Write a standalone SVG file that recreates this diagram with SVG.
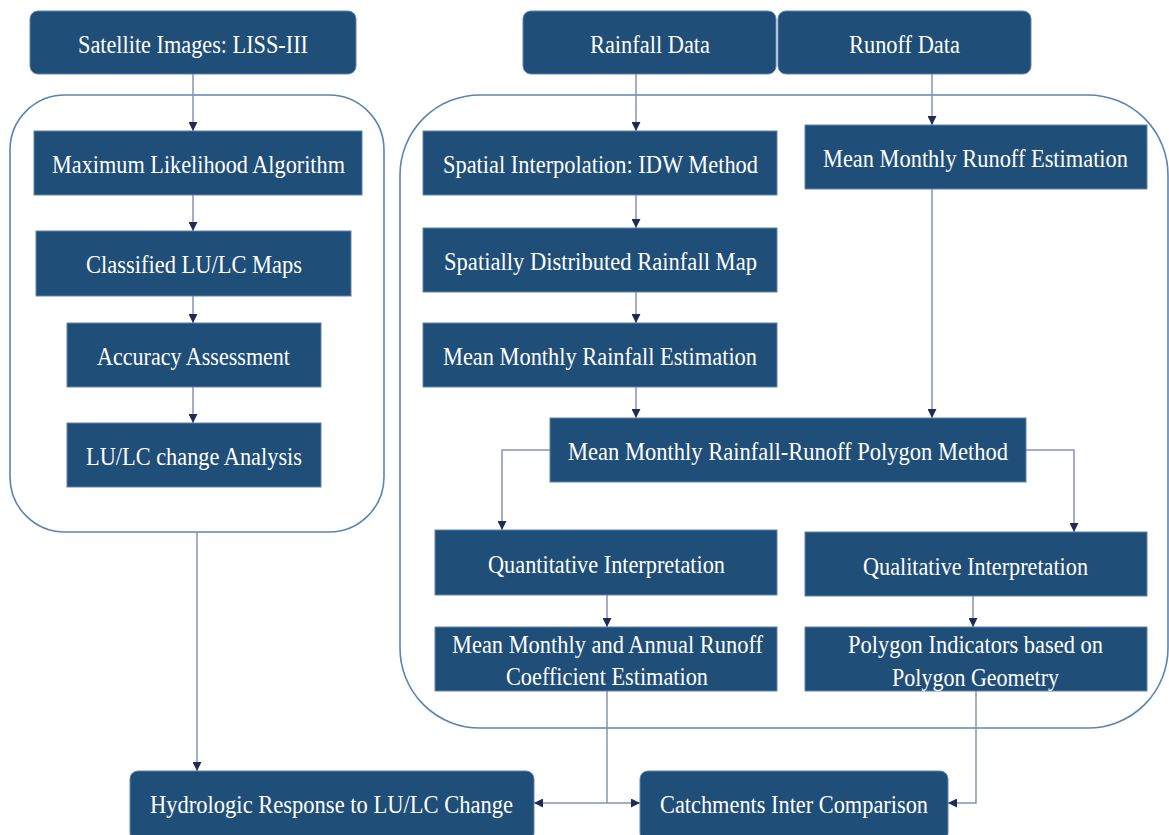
<svg xmlns="http://www.w3.org/2000/svg" width="1169" height="835" viewBox="0 0 1169 835">
<defs>
<marker id="arr" viewBox="0 0 10 10" refX="10" refY="5" markerWidth="9" markerHeight="9" markerUnits="userSpaceOnUse" orient="auto">
<path d="M0,0 L10,5 L0,10 z" fill="#1f2a55"/>
</marker>
<style>
.box{fill:#1f4e79;stroke:#5f84ad;stroke-width:1}
.cont{fill:none;stroke:#5a84b4;stroke-width:1.6}
.t{font-family:"Liberation Serif","Times New Roman",serif;font-size:26px;fill:#ffffff}
.c{fill:none;stroke:#8593b5;stroke-width:1.5}
.ca{fill:none;stroke:#8593b5;stroke-width:1.5;marker-end:url(#arr)}
</style>
</defs>
<rect width="1169" height="835" fill="#ffffff"/>
<g id="containers">
<rect class="cont" x="10" y="95" width="374" height="437" rx="55" ry="55"/>
<rect class="cont" x="400" y="95" width="768" height="633" rx="80" ry="80"/>
</g>
<g id="connectors">
<path class="ca" d="M193,74 V131"/>
<path class="ca" d="M193,195 V231"/>
<path class="ca" d="M193,296 V323"/>
<path class="ca" d="M193,387 V423"/>
<path class="ca" d="M197,532 V771"/>
<path class="ca" d="M636,74 V131"/>
<path class="ca" d="M932,74 V125"/>
<path class="ca" d="M636,195 V228"/>
<path class="ca" d="M636,292 V323"/>
<path class="ca" d="M636,387 V418"/>
<path class="ca" d="M932,189 V418"/>
<path class="ca" d="M550,450 H502 V530"/>
<path class="ca" d="M1026,450 H1074 V532"/>
<path class="ca" d="M607,595 V627"/>
<path class="ca" d="M973,596 V627"/>
<path class="c" d="M607,691 V803"/>
<path class="ca" d="M607,803 H534"/>
<path class="ca" d="M607,803 H640"/>
<path class="ca" d="M976,691 V803 H948"/>
</g>
<g id="n-satellite">
<rect class="box" x="30" y="11" width="326" height="63" rx="8"/>
<text class="t" x="78" y="53" textLength="230" lengthAdjust="spacingAndGlyphs">Satellite Images: LISS-III</text>
</g>
<g id="n-rainfall">
<rect class="box" x="523" y="11" width="253" height="63" rx="8"/>
<text class="t" x="590" y="53" textLength="120" lengthAdjust="spacingAndGlyphs">Rainfall Data</text>
</g>
<g id="n-runoff">
<rect class="box" x="778" y="11" width="253" height="63" rx="8"/>
<text class="t" x="849" y="53" textLength="111" lengthAdjust="spacingAndGlyphs">Runoff Data</text>
</g>
<g id="n-maxlik">
<rect class="box" x="34" y="131" width="328" height="64"/>
<text class="t" x="52" y="173" textLength="293" lengthAdjust="spacingAndGlyphs">Maximum Likelihood Algorithm</text>
</g>
<g id="n-classified">
<rect class="box" x="36" y="231" width="315" height="65"/>
<text class="t" x="86" y="273" textLength="216" lengthAdjust="spacingAndGlyphs">Classified LU/LC Maps</text>
</g>
<g id="n-accuracy">
<rect class="box" x="67" y="323" width="254" height="64"/>
<text class="t" x="97" y="365" textLength="193" lengthAdjust="spacingAndGlyphs">Accuracy Assessment</text>
</g>
<g id="n-lulcchange">
<rect class="box" x="67" y="423" width="254" height="64"/>
<text class="t" x="86" y="465" textLength="216" lengthAdjust="spacingAndGlyphs">LU/LC change Analysis</text>
</g>
<g id="n-spatialinterp">
<rect class="box" x="423" y="131" width="354" height="64"/>
<text class="t" x="443" y="173" textLength="315" lengthAdjust="spacingAndGlyphs">Spatial Interpolation: IDW Method</text>
</g>
<g id="n-runoffest">
<rect class="box" x="805" y="125" width="342" height="64"/>
<text class="t" x="823" y="167" textLength="305" lengthAdjust="spacingAndGlyphs">Mean Monthly Runoff Estimation</text>
</g>
<g id="n-distmap">
<rect class="box" x="423" y="228" width="354" height="64"/>
<text class="t" x="444" y="270" textLength="313" lengthAdjust="spacingAndGlyphs">Spatially Distributed Rainfall Map</text>
</g>
<g id="n-rainest">
<rect class="box" x="423" y="323" width="354" height="64"/>
<text class="t" x="443" y="365" textLength="314" lengthAdjust="spacingAndGlyphs">Mean Monthly Rainfall Estimation</text>
</g>
<g id="n-polygon">
<rect class="box" x="550" y="418" width="476" height="64"/>
<text class="t" x="568" y="460" textLength="440" lengthAdjust="spacingAndGlyphs">Mean Monthly Rainfall-Runoff Polygon Method</text>
</g>
<g id="n-quant">
<rect class="box" x="435" y="530" width="342" height="65"/>
<text class="t" x="488" y="573" textLength="237" lengthAdjust="spacingAndGlyphs">Quantitative Interpretation</text>
</g>
<g id="n-qual">
<rect class="box" x="805" y="532" width="342" height="64"/>
<text class="t" x="863" y="575" textLength="225" lengthAdjust="spacingAndGlyphs">Qualitative Interpretation</text>
</g>
<g id="n-coeff">
<rect class="box" x="435" y="627" width="342" height="64"/>
<text class="t" x="452" y="653" textLength="311" lengthAdjust="spacingAndGlyphs">Mean Monthly and Annual Runoff</text>
<text class="t" x="506" y="685" textLength="202" lengthAdjust="spacingAndGlyphs">Coefficient Estimation</text>
</g>
<g id="n-indicators">
<rect class="box" x="805" y="627" width="342" height="64"/>
<text class="t" x="848" y="653" textLength="255" lengthAdjust="spacingAndGlyphs">Polygon Indicators based on</text>
<text class="t" x="892" y="686" textLength="167" lengthAdjust="spacingAndGlyphs">Polygon Geometry</text>
</g>
<g id="n-hydrologic">
<rect class="box" x="130" y="771" width="404" height="70" rx="8"/>
<text class="t" x="150" y="813" textLength="363" lengthAdjust="spacingAndGlyphs">Hydrologic Response to LU/LC Change</text>
</g>
<g id="n-catchments">
<rect class="box" x="640" y="771" width="308" height="70" rx="8"/>
<text class="t" x="660" y="813" textLength="268" lengthAdjust="spacingAndGlyphs">Catchments Inter Comparison</text>
</g>
</svg>
